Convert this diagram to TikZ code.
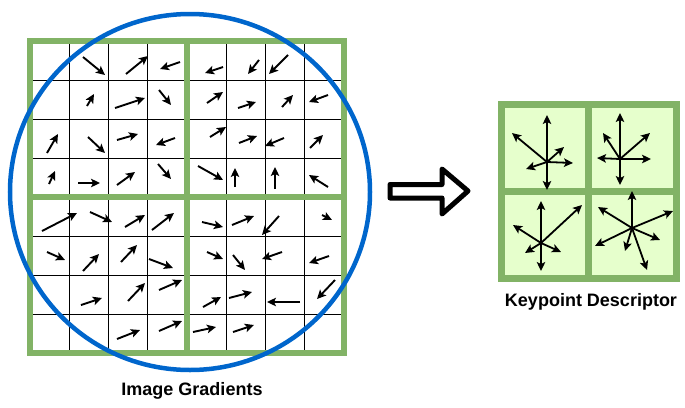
\documentclass[tikz,border=0pt]{standalone}
\usepackage{fontspec}
\setmainfont{Liberation Sans}
\usetikzlibrary{arrows.meta}
\definecolor{gridgreen}{HTML}{82B366}
\definecolor{binfill}{HTML}{E6FFCC}
\definecolor{ringblue}{HTML}{0066CC}

\begin{document}
\begin{tikzpicture}[x=1pt, y=-1pt, >={Stealth[length=9pt,width=8.5pt,inset=2pt]},
    cellline/.style={black, line width=0.8pt},
    blockline/.style={gridgreen, line width=6pt},
    grad/.style={->, line width=1.9pt},
    binarrow/.style={->, line width=1.8pt},
    label/.style={font=\bfseries\fontsize{18}{20}\selectfont}]
    \useasboundingbox (0,0) rectangle (685,407);

    % image gradients: 8x8 cells
    \foreach \k in {1,2,3,5,6,7} {
        \draw[cellline] (30+39.25*\k,41) -- (30+39.25*\k,353);
        \draw[cellline] (30,41+39*\k) -- (344,41+39*\k);
    }
    \draw[blockline] (30,41) rectangle (344,353);
    \draw[blockline] (187,41) -- (187,353);
    \draw[blockline] (30,197) -- (344,197);

    \foreach \ax/\ay/\bx/\by in {
        83/57/105/75, 126/74/148/56, 180/62/160/69, 223/67/205/73, 259/60/248/74, 288/55/269/74,
        87/106/94/94, 115/108/145/98, 159/90/171/105, 207/103/223/92, 238/108/256/102, 282/107/293/95, 328/95/309/102,
        47/153/58/134, 88/137/105/153, 117/140/138/134, 175/138/156/145, 210/137/226/127, 239/143/257/136, 284/138/265/146, 310/148/323/135,
        49/184/55/171, 78/183/100/183, 117/185/135/172, 158/164/171/179, 198/166/223/180, 235/187/235/168, 275/189/275/167, 328/187/309/175,
        42/231/77/213, 90/212/112/222, 125/227/145/215, 152/230/174/213, 202/222/223/227, 232/225/254/216, 279/216/262/235, 322/215/332/220,
        47/252/65/260, 83/271/99/254, 121/262/137/245, 149/259/173/268, 207/252/223/259, 233/255/245/270, 282/252/262/259, 329/256/309/263,
        81/305/102/298, 128/301/145/283, 159/290/182/280, 203/307/221/297, 229/298/252/292, 300/302/267/302, 335/280/317/299,
        117/339/140/330, 159/331/182/321, 193/332/216/327, 233/332/254/325}
        \draw[grad] (\ax,\ay) -- (\bx,\by);

    \draw[ringblue, line width=4.5pt] (190,192) ellipse [x radius=180pt, y radius=178pt];
    \node[label] (lblgrad) at (192,391) {Image Gradients};

    % hollow arrow
    \draw[line width=5pt, line join=round] (390,184.5) -- (442,184.5) -- (442,169) -- (468,191)
        -- (442,214) -- (442,198) -- (390,198) -- cycle;

    % keypoint descriptor: 2x2 bins
    \fill[binfill] (501,104.5) rectangle (676,278);
    \draw[blockline, line width=7pt] (501,104.5) rectangle (676,278);
    \draw[blockline, line width=7pt] (588,104.5) -- (588,278);
    \draw[blockline, line width=7pt] (501,191) -- (676,191);

    \coordinate (binA) at (547,162);
    \coordinate (binB) at (620,159);
    \coordinate (binC) at (541,243);
    \coordinate (binD) at (632,228);
    \foreach \tx/\ty in {547/115, 547/190, 512/133, 526/169, 573/163, 564/147}
        \draw[binarrow] (binA) -- (\tx,\ty);
    \foreach \tx/\ty in {620/113, 620/185, 597/158, 651/159, 650/133, 603/133}
        \draw[binarrow] (binB) -- (\tx,\ty);
    \foreach \tx/\ty in {541/201, 541/271, 582/205, 513/225, 525/253, 561/252}
        \draw[binarrow] (binC) -- (\tx,\ty);
    \foreach \tx/\ty in {632/191, 598/207, 673/211, 595/246, 625/251, 647/270, 660/240}
        \draw[binarrow] (binD) -- (\tx,\ty);
    \node[label] (lbldesc) at (591,302) {Keypoint Descriptor};
\end{tikzpicture}
\end{document}
